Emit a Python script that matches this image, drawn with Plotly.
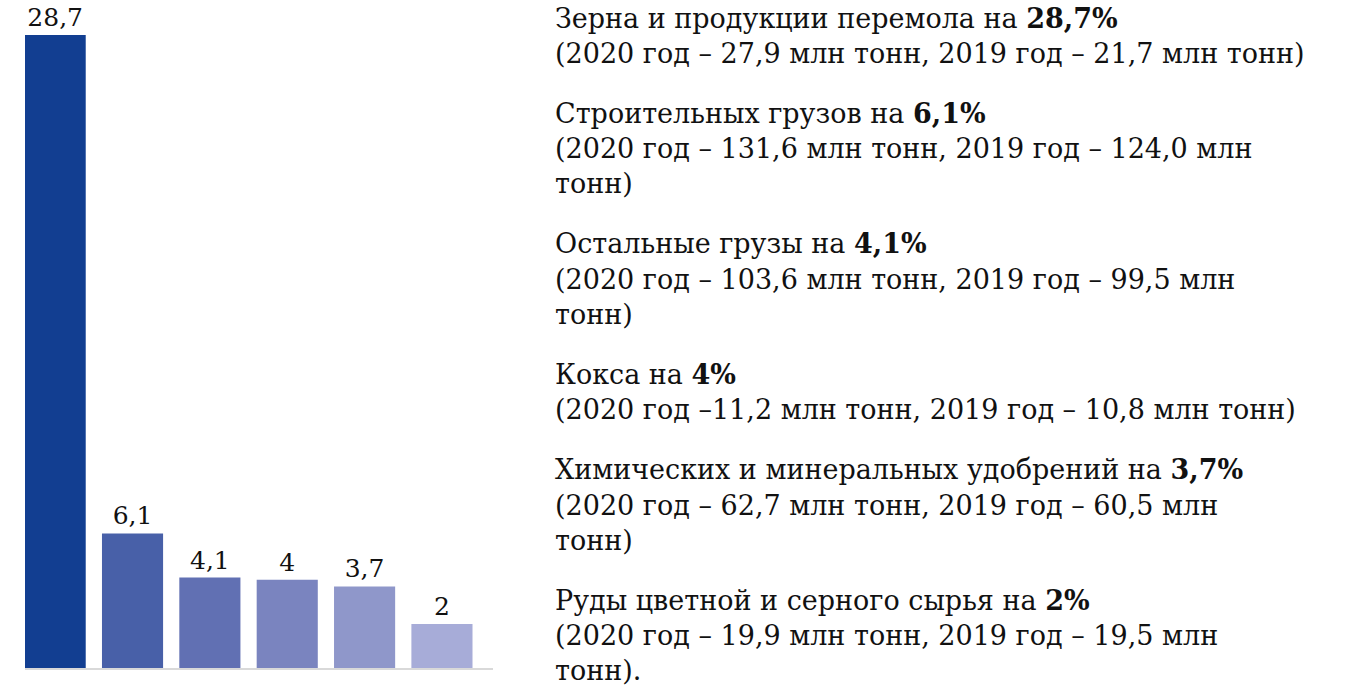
import plotly.graph_objects as go

# Cargo groups with the largest growth of loading, % change 2020 vs 2019
categories = ["Зерно", "Строительные грузы", "Остальные грузы", "Кокс",
              "Химические и минеральные удобрения", "Руды цветные и серное сырьё"]
growth = [28.7, 6.1, 4.1, 4.0, 3.7, 2.0]
value_labels = ["28,7", "6,1", "4,1", "4", "3,7", "2"]
bar_colors = ["#123e91", "#4860a8", "#6170b3", "#7a84bf", "#8f97ca", "#a7acd8"]

# Description blocks: heading, bold percentage, then detail lines
headings = ["Зерна и продукции перемола на ", "Строительных грузов на ",
            "Остальные грузы на ", "Кокса на ",
            "Химических и минеральных удобрений на ",
            "Руды цветной и серного сырья на "]
bold_pct = ["28,7%", "6,1%", "4,1%", "4%", "3,7%", "2%"]
details = [
    ["(2020 год – 27,9 млн тонн, 2019 год – 21,7 млн тонн)"],
    ["(2020 год – 131,6 млн тонн, 2019 год – 124,0 млн", "тонн)"],
    ["(2020 год – 103,6 млн тонн, 2019 год – 99,5 млн", "тонн)"],
    ["(2020 год –11,2 млн тонн, 2019 год – 10,8 млн тонн)"],
    ["(2020 год – 62,7 млн тонн, 2019 год – 60,5 млн", "тонн)"],
    ["(2020 год – 19,9 млн тонн, 2019 год – 19,5 млн", "тонн)."],
]

W, H = 1345, 686
FONT = "DejaVu Serif"
TEXT_COLOR = "#111111"

fig = go.Figure(go.Bar(
    x=list(range(len(categories))),
    y=growth,
    text=value_labels,
    textposition="outside",
    textfont=dict(family=FONT, size=25, color=TEXT_COLOR),
    constraintext="none",
    cliponaxis=False,
    marker=dict(color=bar_colors, line=dict(width=0)),
    hovertext=categories,
    hoverinfo="text+y",
))

# Pixel geometry of the bar panel
baseline_px, top_px = 668, 6.3
fig.update_layout(
    width=W, height=H,
    margin=dict(l=0, r=0, t=0, b=0),
    paper_bgcolor="white", plot_bgcolor="white",
    showlegend=False,
    bargap=0.21,
    xaxis=dict(domain=[25 / W, 493 / W], range=[-0.39, 5.66],
               showticklabels=False, ticks="", showgrid=False, zeroline=False,
               showline=True, linecolor="#d9d9d9", linewidth=2, fixedrange=True),
    yaxis=dict(domain=[(H - baseline_px) / H, (H - top_px) / H], range=[0, 30],
               visible=False, fixedrange=True),
)

# Right-hand text column, one annotation per line
x_text = 553 / W
line_step, block_gap = 35.3, 60
y_px = 18
for head, pct, rows in zip(headings, bold_pct, details):
    lines = [f"{head}<b>{pct}</b>"] + rows
    for i, line in enumerate(lines):
        fig.add_annotation(
            xref="paper", yref="paper", x=x_text, y=(H - y_px) / H,
            xanchor="left", yanchor="middle", showarrow=False,
            text=line, align="left",
            font=dict(family=FONT, size=27, color=TEXT_COLOR),
        )
        if i < len(lines) - 1:
            y_px += line_step
    y_px += block_gap

fig.write_html("out.html")
